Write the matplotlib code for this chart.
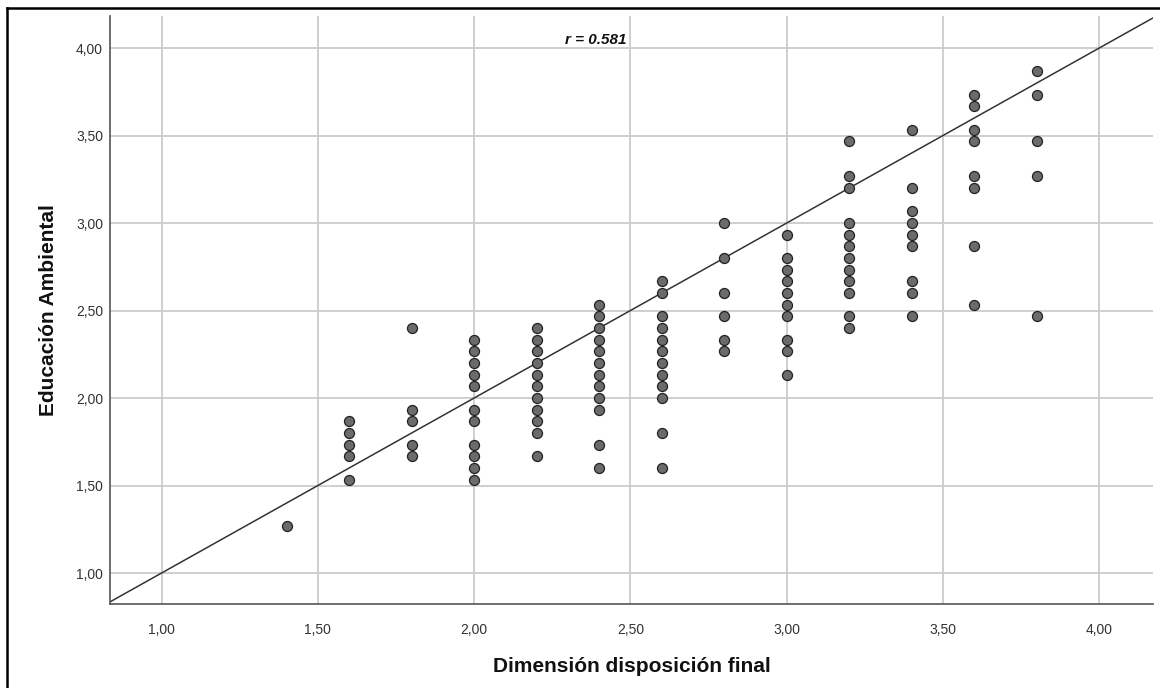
import matplotlib
matplotlib.use("Agg")
import matplotlib.pyplot as plt
from matplotlib.ticker import FuncFormatter
from matplotlib.lines import Line2D

plt.rcParams['font.family'] = ['Liberation Sans', 'DejaVu Sans']

# Data: x = Dimensión disposición final, y = Educación Ambiental (one list per x column)
x_levels = [1.4, 1.6, 1.8, 2.0, 2.2, 2.4, 2.6, 2.8, 3.0, 3.2, 3.4, 3.6, 3.8]
y_by_level = [
    [1.267],
    [1.867, 1.800, 1.733, 1.667, 1.533],
    [2.400, 1.933, 1.867, 1.733, 1.667],
    [2.333, 2.267, 2.200, 2.133, 2.067, 1.933, 1.867, 1.733, 1.667, 1.600, 1.533],
    [2.400, 2.333, 2.267, 2.200, 2.133, 2.067, 2.000, 1.933, 1.867, 1.800, 1.667],
    [2.533, 2.467, 2.400, 2.333, 2.267, 2.200, 2.133, 2.067, 2.000, 1.933, 1.733, 1.600],
    [2.667, 2.600, 2.467, 2.400, 2.333, 2.267, 2.200, 2.133, 2.067, 2.000, 1.800, 1.600],
    [3.000, 2.800, 2.600, 2.467, 2.333, 2.267],
    [2.933, 2.800, 2.733, 2.667, 2.600, 2.533, 2.467, 2.333, 2.267, 2.133],
    [3.467, 3.267, 3.200, 3.000, 2.933, 2.867, 2.800, 2.733, 2.667, 2.600, 2.467, 2.400],
    [3.533, 3.200, 3.067, 3.000, 2.933, 2.867, 2.667, 2.600, 2.467],
    [3.733, 3.667, 3.533, 3.467, 3.267, 3.200, 2.867, 2.533],
    [3.867, 3.733, 3.467, 3.267, 2.467],
]
tick_values = [1.0, 1.5, 2.0, 2.5, 3.0, 3.5, 4.0]
r_label = "r = 0.581"
x_title = "Dimensión disposición final"
y_title = "Educación Ambiental"

xs, ys = [], []
for xv, col in zip(x_levels, y_by_level):
    for yv in col:
        xs.append(xv)
        ys.append(yv)

W, H = 1160, 688
fig = plt.figure(figsize=(W / 100, H / 100), dpi=100)
ax = fig.add_axes([110 / W, 1 - 604 / H, (1153 - 110) / W, (604 - 16) / H])

xlim = (0.835, 4.172)
ylim = (0.823, 4.183)
ax.set_xlim(*xlim)
ax.set_ylim(*ylim)

ax.set_xticks(tick_values)
ax.set_yticks(tick_values)
fmt = FuncFormatter(lambda v, p: f"{v:.2f}".replace(".", ","))
ax.xaxis.set_major_formatter(fmt)
ax.yaxis.set_major_formatter(fmt)
ax.tick_params(length=0, labelsize=10, colors='#333333')
ax.tick_params(axis='x', pad=14)
ax.tick_params(axis='y', pad=5)

ax.grid(True, color='#cccccc', linewidth=1.3, zorder=0)
ax.set_axisbelow(True)
for s in ['top', 'right']:
    ax.spines[s].set_visible(False)
for s in ['left', 'bottom']:
    ax.spines[s].set_color('#555555')
    ax.spines[s].set_linewidth(1.2)

# reference line y = x
lo = min(xlim[0], ylim[0]); hi = max(xlim[1], ylim[1])
ax.plot([lo, hi], [lo, hi], color='#333333', linewidth=1.1, zorder=2)

ax.scatter(xs, ys, s=52, facecolor='#6b6b6b', edgecolor='#222222',
           linewidth=0.9, zorder=3)

ax.text(2.291, 4.046, r_label, fontsize=11, fontweight='bold', fontstyle='italic',
        ha='left', va='center', color='#111111')

ax.set_xlabel(x_title, fontsize=15, fontweight='bold', labelpad=14, color='#111111')
ax.set_ylabel(y_title, fontsize=15, fontweight='bold', labelpad=13, color='#111111')

# outer frame
fig.add_artist(Line2D([7 / W, 7 / W], [0, 1 - 8 / H], transform=fig.transFigure,
                      color='black', linewidth=1.8))
fig.add_artist(Line2D([7 / W, 1], [1 - 8 / H, 1 - 8 / H], transform=fig.transFigure,
                      color='black', linewidth=1.8))

fig.savefig("out.png", dpi=100)
